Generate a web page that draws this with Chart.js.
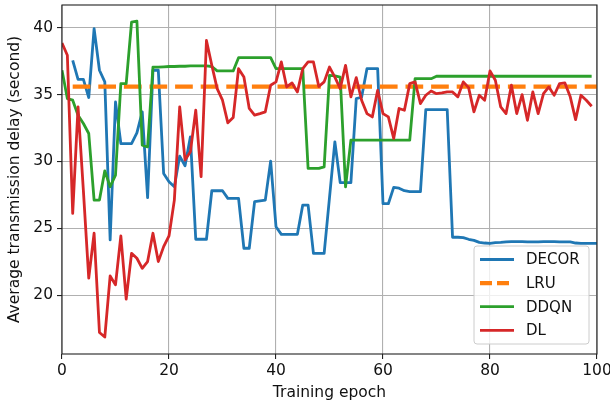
<!DOCTYPE html>
<html lang="en">
  <head>
    <meta charset="UTF-8" />
    <title>Average transmission delay</title>
    <script src="https://cdn.jsdelivr.net/npm/chart.js"></script>
    <style>
      body { margin: 0; background: #fff; }
      canvas { display: block; }
    </style>
  </head>
  <body>
    <canvas id="myChart" width="610" height="403"></canvas>
    <script>
      // axis ticks
      const xTicks = [0, 20, 40, 60, 80, 100];
      const yTicks = [20, 25, 30, 35, 40];

      // DECOR starts at epoch 2, runs to 100
      const decorStart = 2;
      const decor = [
        37.56, 36.14, 36.14, 34.78, 39.93, 36.82, 35.95, 24.13, 34.45, 31.34,
        31.34, 31.34, 32.14, 33.71, 27.29, 36.82, 36.82, 29.1, 28.48, 28.11,
        30.4, 29.68, 31.84, 24.18, 24.18, 24.18, 27.81, 27.81, 27.81, 27.24,
        27.24, 27.24, 23.51, 23.51, 26.99, 27.05, 27.11, 30.02, 25.12, 24.55,
        24.55, 24.55, 24.55, 26.74, 26.74, 23.13, 23.13, 23.13, 27.3, 31.47,
        28.42, 28.42, 28.42, 34.7, 34.8, 36.94, 36.94, 36.94, 26.84, 26.84,
        28.06, 28.0, 27.81, 27.74, 27.74, 27.74, 33.88, 33.88, 33.88, 33.88,
        33.88, 24.33, 24.33, 24.3, 24.18, 24.1, 23.95, 23.9, 23.88, 23.93,
        23.95, 23.98, 24.0, 24.0, 24.0, 23.98, 23.98, 23.98, 24.0, 24.0,
        24.0, 23.98, 23.98, 23.98, 23.9, 23.88, 23.88, 23.88, 23.88
      ];

      // LRU is flat
      const lruValue = 35.6;
      const lruEpochs = [2, 100];

      // DDQN and DL run from epoch 0 to 99
      const ddqnStart = 0;
      const ddqn = [
        36.82, 34.7, 34.58, 33.46, 32.84, 32.09, 27.11, 27.11, 29.3, 28.11,
        28.98, 35.82, 35.82, 40.42, 40.5, 31.22, 31.09, 37.06, 37.06, 37.08,
        37.1, 37.1, 37.12, 37.12, 37.14, 37.14, 37.14, 37.14, 37.1, 36.77,
        36.77, 36.77, 36.77, 37.76, 37.76, 37.76, 37.76, 37.76, 37.76, 37.76,
        36.94, 36.94, 36.94, 36.94, 36.94, 36.94, 29.48, 29.48, 29.48, 29.6,
        36.44, 36.4, 36.3, 28.1, 31.59, 31.59, 31.59, 31.59, 31.59, 31.59,
        31.59, 31.59, 31.59, 31.59, 31.59, 31.59, 36.19, 36.19, 36.19, 36.19,
        36.37, 36.37, 36.37, 36.37, 36.37, 36.37, 36.37, 36.37, 36.37, 36.37,
        36.37, 36.37, 36.37, 36.37, 36.37, 36.37, 36.37, 36.37, 36.37, 36.37,
        36.37, 36.37, 36.37, 36.37, 36.37, 36.37, 36.37, 36.37, 36.37, 36.37
      ];

      const dlStart = 0;
      const dl = [
        38.86, 37.94, 26.12, 34.08, 27.8, 21.27, 24.63, 17.21, 16.87, 21.44,
        20.77, 24.43, 19.7, 23.13, 22.76, 22.01, 22.51, 24.63, 22.51, 23.63,
        24.43, 27.11, 34.08, 30.1, 30.72, 33.83, 28.86, 39.05, 37.2, 35.45,
        34.58, 32.89, 33.28, 36.94, 36.32, 33.96, 33.46, 33.58, 33.71, 35.7,
        35.95, 37.44, 35.57, 35.87, 35.2, 36.94, 37.44, 37.44, 35.6, 35.95,
        37.06, 36.3, 35.45, 37.19, 34.83, 36.27, 34.58, 33.58, 33.33, 35.32,
        33.58, 33.33, 31.72, 33.96, 33.83, 35.82, 35.95, 34.33, 34.95, 35.27,
        35.07, 35.12, 35.2, 35.2, 34.83, 35.95, 35.52, 33.71, 34.95, 34.58,
        36.77, 36.07, 34.08, 33.58, 35.7, 33.58, 35.0, 33.08, 35.2, 33.58,
        35.07, 35.57, 34.95, 35.82, 35.87, 34.83, 33.13, 34.95, 34.58, 34.13
      ];

      const toPoints = (start, list) => list.map((v, i) => ({ x: start + i, y: v }));

      const FONT = "'DejaVu Sans', sans-serif";
      const lineStyle = {
        pointRadius: 0,
        tension: 0,
        fill: false,
        borderJoinStyle: "round",
      };

      const datasets = [
        { label: "DECOR", data: toPoints(decorStart, decor), borderColor: "#1f77b4", borderWidth: 2.8, order: 4, ...lineStyle },
        { label: "LRU", data: lruEpochs.map((e) => ({ x: e, y: lruValue })), borderColor: "#ff7f0e", borderWidth: 4.2, borderDash: [17.7, 7.9], order: 3, ...lineStyle },
        { label: "DDQN", data: toPoints(ddqnStart, ddqn), borderColor: "#2ca02c", borderWidth: 2.8, order: 2, ...lineStyle },
        { label: "DL", data: toPoints(dlStart, dl), borderColor: "#d62728", borderWidth: 2.8, order: 1, ...lineStyle },
      ];

      // frame on all four sides + legend box inside the plot, lower right
      const framePlugin = {
        id: "frame",
        afterDraw(chart) {
          const { ctx, chartArea: a } = chart;
          ctx.save();
          ctx.strokeStyle = "#222";
          ctx.lineWidth = 1.1;
          ctx.strokeRect(a.left, a.top, a.right - a.left, a.bottom - a.top);

          const w = 115, h = 98;
          const bx = a.right - 8 - w, by = a.bottom - 10 - h;
          ctx.beginPath();
          ctx.roundRect(bx, by, w, h, 3);
          ctx.fillStyle = "rgba(255,255,255,0.8)";
          ctx.fill();
          ctx.strokeStyle = "#cccccc";
          ctx.lineWidth = 1;
          ctx.stroke();

          ctx.font = "15px " + FONT;
          ctx.textBaseline = "middle";
          ctx.textAlign = "left";
          datasets.forEach((ds, i) => {
            const y = by + 13.5 + i * 23.6;
            ctx.beginPath();
            ctx.strokeStyle = ds.borderColor;
            ctx.lineWidth = ds.borderWidth;
            ctx.setLineDash(ds.borderDash ? [12, 5] : []);
            ctx.moveTo(bx + 6, y);
            ctx.lineTo(bx + 40, y);
            ctx.stroke();
            ctx.setLineDash([]);
            ctx.fillStyle = "#111";
            ctx.fillText(ds.label, bx + 52, y + 1);
          });
          ctx.restore();
        },
      };

      const tickFont = { family: FONT, size: 15.5 };
      const titleFont = { family: FONT, size: 15.5 };

      new Chart(document.getElementById("myChart"), {
        type: "line",
        data: { datasets: datasets },
        plugins: [framePlugin],
        options: {
          responsive: false,
          devicePixelRatio: 1,
          animation: false,
          layout: { padding: { top: 5, right: 13, left: 0, bottom: 0 } },
          plugins: { legend: { display: false }, tooltip: { enabled: false } },
          scales: {
            x: {
              type: "linear",
              min: 0,
              max: 100,
              afterBuildTicks: (s) => { s.ticks = xTicks.map((v) => ({ value: v })); },
              afterFit: (s) => { s.height = 49; s.paddingLeft = 0; s.paddingRight = 0; },
              grid: { color: "#b0b0b0", lineWidth: 1.1, tickColor: "#222", tickLength: 5 },
              border: { display: false },
              ticks: { color: "#111", font: tickFont, padding: 3, maxRotation: 0 },
              title: { display: true, text: "Training epoch", color: "#111", font: titleFont, padding: { top: 0, bottom: 1 } },
            },
            y: {
              min: 15.6,
              max: 41.7,
              afterBuildTicks: (s) => { s.ticks = yTicks.map((v) => ({ value: v })); },
              afterFit: (s) => { s.width = 62; s.paddingTop = 0; s.paddingBottom = 0; },
              grid: { color: "#b0b0b0", lineWidth: 1.1, tickColor: "#222", tickLength: 5 },
              border: { display: false },
              ticks: { color: "#111", font: tickFont, padding: 4 },
              title: { display: true, text: "Average transmission delay (second)", color: "#111", font: titleFont, padding: { top: 6, bottom: 0 } },
            },
          },
        },
      });
    </script>
  </body>
</html>
